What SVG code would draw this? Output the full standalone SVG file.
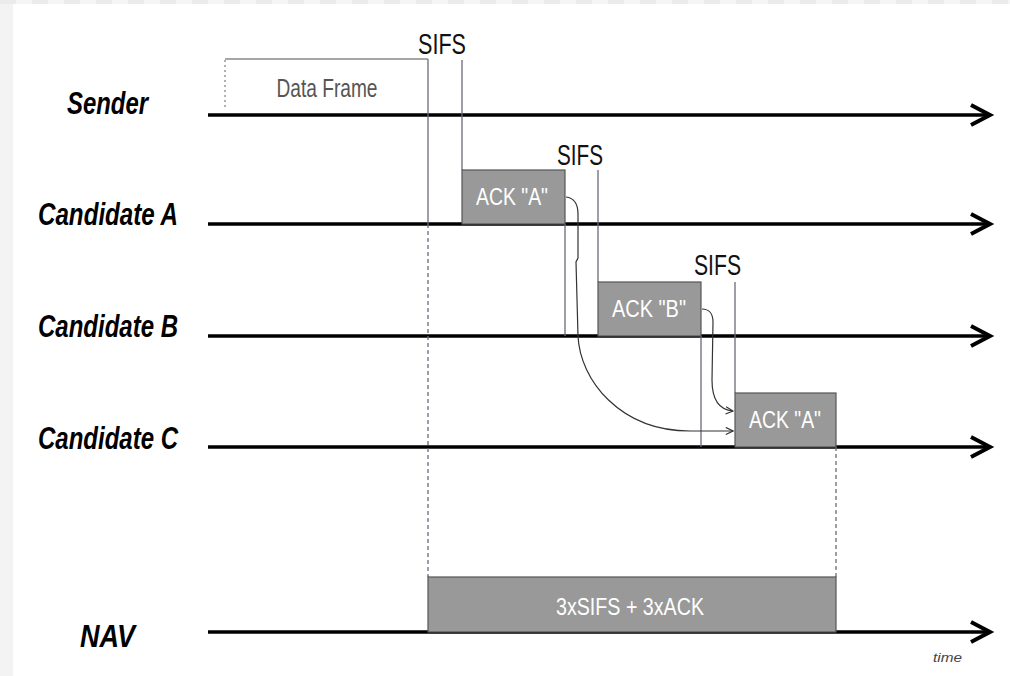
<svg xmlns="http://www.w3.org/2000/svg" width="1010" height="676" viewBox="0 0 1010 676">
<defs>
<pattern id="chk" x="0" y="0" width="32" height="4" patternUnits="userSpaceOnUse">
<rect width="16" height="4" fill="#ebebeb"/><rect x="16" width="16" height="4" fill="#f5f5f5"/>
</pattern>
<marker id="ah" viewBox="0 0 10 10" refX="9" refY="5" markerWidth="9" markerHeight="9" markerUnits="userSpaceOnUse" orient="auto">
<path d="M1,1 L9,5 L1,9" fill="none" stroke="#333" stroke-width="1.3"/>
</marker>
</defs>
<style>
.lbl{font-family:"Liberation Sans",Arial,sans-serif;font-weight:bold;font-style:italic;font-size:31px;fill:#000}
.sifs{font-family:"Liberation Sans",Arial,sans-serif;font-size:29px;fill:#111}
.box{fill:#999;stroke:#555;stroke-width:1.2}
.bt{font-family:"Liberation Sans",Arial,sans-serif;font-size:24px;fill:#fff;text-anchor:middle}
.tl{stroke:#000;stroke-width:3.5;fill:none}
.th{stroke:#000;stroke-width:4;fill:none;stroke-linejoin:miter}
.vl{stroke:#6a6a78;stroke-width:1.3;fill:none}
.dl{stroke:#6a6a78;stroke-width:1.3;fill:none;stroke-dasharray:4 3}
.cv{stroke:#333;stroke-width:1.2;fill:none}
</style>
<rect width="1010" height="676" fill="#f3f3f3"/>
<rect x="0" y="0" width="1010" height="4" fill="url(#chk)"/>
<rect x="13" y="4" width="997" height="672" fill="#fff"/>

<g id="connectors">
<path class="tl" d="M208,115 H988"/><path class="th" d="M971,105 L990,115 L971,125"/>
<path class="tl" d="M208,224 H988"/><path class="th" d="M971,214 L990,224 L971,234"/>
<path class="tl" d="M208,336 H988"/><path class="th" d="M971,326 L990,336 L971,346"/>
<path class="tl" d="M208,447 H988"/><path class="th" d="M971,437 L990,447 L971,457"/>
<path class="tl" d="M208,632 H988"/><path class="th" d="M971,622 L990,632 L971,642"/>
<path class="vl" d="M428,59 V224"/>
<path class="dl" d="M428,224 V577"/>
<path class="vl" d="M462,60 V170"/>
<path class="vl" d="M565,224 V336"/>
<path class="vl" d="M598,170 V282"/>
<path class="vl" d="M701,336 V447"/>
<path class="vl" d="M735,282 V393"/>
<path class="dl" d="M836,447 V577"/>
<path class="cv" marker-end="url(#ah)" d="M566,197 C574,198 578,204 578,214 L578,258 L576,262 L578,336 C580,380 620,431 690,431 L733,431"/>
<path class="cv" marker-end="url(#ah)" d="M702,309 C709,309 713,314 713,322 L712,380 C712,400 720,410 733,411"/>
</g>

<g id="data-frame">
<path d="M225,59 H428" stroke="#888" stroke-width="1.5" fill="none"/>
<path d="M225,60 V110" stroke="#888" stroke-width="1.3" stroke-dasharray="2 3" fill="none"/>
<text x="327" y="97" font-family="Liberation Sans,Arial,sans-serif" font-size="25" fill="#555" text-anchor="middle" textLength="101" lengthAdjust="spacingAndGlyphs">Data Frame</text>
</g>

<g id="sifs-labels">
<text class="sifs" x="418" y="54" textLength="48" lengthAdjust="spacingAndGlyphs">SIFS</text>
<text class="sifs" x="557" y="165" textLength="46" lengthAdjust="spacingAndGlyphs">SIFS</text>
<text class="sifs" x="694" y="275" textLength="47" lengthAdjust="spacingAndGlyphs">SIFS</text>
</g>

<g id="ack-a">
<rect class="box" x="462" y="170" width="103" height="54"/>
<text class="bt" x="512" y="205" textLength="72" lengthAdjust="spacingAndGlyphs">ACK "A"</text>
</g>
<g id="ack-b">
<rect class="box" x="598" y="282" width="103" height="54"/>
<text class="bt" x="649" y="317" textLength="74" lengthAdjust="spacingAndGlyphs">ACK "B"</text>
</g>
<g id="ack-c">
<rect class="box" x="735" y="393" width="101" height="54"/>
<text class="bt" x="785" y="428" textLength="72" lengthAdjust="spacingAndGlyphs">ACK "A"</text>
</g>
<g id="nav-box">
<rect class="box" x="428" y="577" width="408" height="55"/>
<text class="bt" x="630" y="615" font-size="25" textLength="148" lengthAdjust="spacingAndGlyphs">3xSIFS + 3xACK</text>
</g>

<g id="labels">
<text class="lbl" x="67" y="114" textLength="81" lengthAdjust="spacingAndGlyphs">Sender</text>
<text class="lbl" x="38" y="225" textLength="140" lengthAdjust="spacingAndGlyphs">Candidate A</text>
<text class="lbl" x="38" y="337" textLength="140" lengthAdjust="spacingAndGlyphs">Candidate B</text>
<text class="lbl" x="38" y="449" textLength="140" lengthAdjust="spacingAndGlyphs">Candidate C</text>
<text class="lbl" x="80" y="647" textLength="55" lengthAdjust="spacingAndGlyphs">NAV</text>
<text x="933" y="662" font-family="Liberation Sans,Arial,sans-serif" font-style="italic" font-size="13" fill="#444" textLength="29" lengthAdjust="spacingAndGlyphs">time</text>
</g>
</svg>
